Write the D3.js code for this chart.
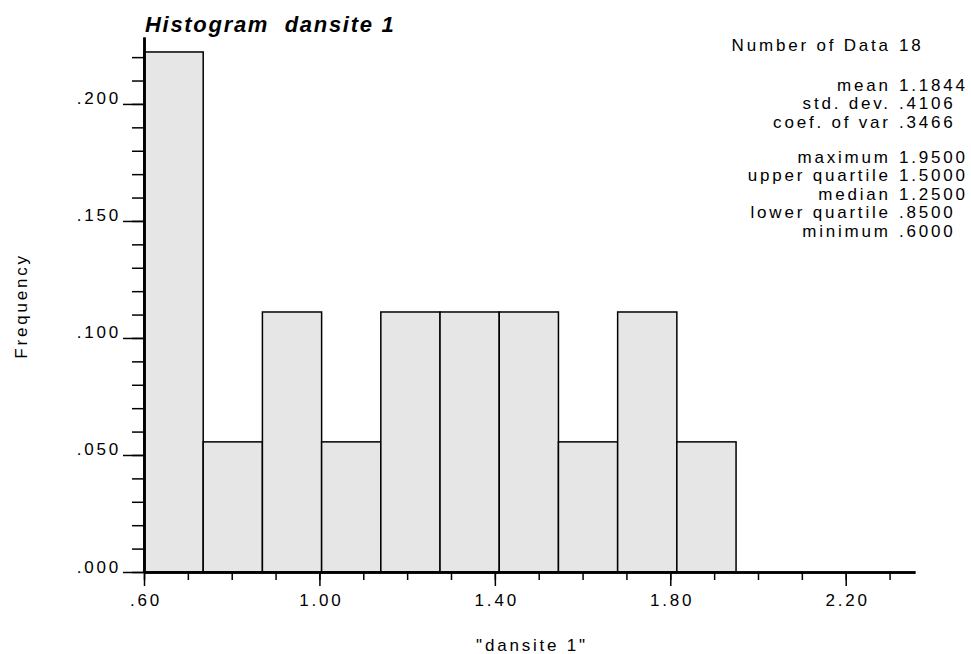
<!DOCTYPE html>
<html>
<head>
<meta charset="utf-8">
<script src="https://cdn.jsdelivr.net/npm/d3@7"></script>
<style>
  body { margin: 0; background: #fff; }
  text { font-family: "Liberation Sans", Arial, sans-serif; fill: #000; }
</style>
</head>
<body>
<div id="chart"></div>
<script>
var width = 971;
var height = 654;

// bins of "dansite 1" (10 classes from .60 to 1.95), frequency = count / 18
var binEdges = [0.60, 0.735, 0.87, 1.005, 1.14, 1.275, 1.41, 1.545, 1.68, 1.815, 1.95];
var binFreq = [0.2222, 0.0556, 0.1111, 0.0556, 0.1111, 0.1111, 0.1111, 0.0556, 0.1111, 0.0556];

var xMajor = [0.6, 1.0, 1.4, 1.8, 2.2];
var yMajor = [0, 0.05, 0.10, 0.15, 0.20];

var statLabels = ["Number of Data", "mean", "std. dev.", "coef. of var",
                  "maximum", "upper quartile", "median", "lower quartile", "minimum"];
var statValues = ["18", "1.1844", ".4106", ".3466",
                  "1.9500", "1.5000", "1.2500", ".8500", ".6000"];

var margin = {left: 144, right: 56, top: 37, bottom: 82};
var fs = 17;      // body font size
var ls = 2.8;     // the original font is widely spaced

var svg = d3.select("#chart")
    .append("svg")
    .attr("width", width)
    .attr("height", height);

var x = d3.scaleLinear().domain([0.6, 2.358]).range([margin.left, width - margin.right]);
var y = d3.scaleLinear().domain([0, 0.2286]).range([height - margin.bottom, margin.top]);

var bars = svg.append("g");
bars.selectAll("rect")
    .data(binFreq)
    .enter()
    .append("rect")
    .attr("x", function(d, i){ return x(binEdges[i]); })
    .attr("width", function(d, i){ return x(binEdges[i + 1]) - x(binEdges[i]); })
    .attr("y", function(d){ return y(d); })
    .attr("height", function(d){ return y(0) - y(d); })
    .attr("fill", "#e6e6e6")
    .attr("stroke", "#000")
    .attr("stroke-width", 1.5);

function stripZero(f){
    return function(v){ return f(v).replace(/^0\./, "."); };
}

// x axis: minor ticks every .1, labels every .4
var xMinor = d3.range(0.6, 2.35, 0.1);
svg.append("g")
    .attr("transform", "translate(0," + y(0) + ")")
    .call(d3.axisBottom(x).tickValues(xMinor).tickSize(8).tickFormat("").tickSizeOuter(0));
var xAxis = svg.append("g")
    .attr("transform", "translate(0," + y(0) + ")")
    .call(d3.axisBottom(x).tickValues(xMajor).tickSize(14).tickPadding(8)
        .tickFormat(stripZero(d3.format(".2f"))).tickSizeOuter(0));

// y axis: minor ticks every .01, labels every .05
var yMinor = d3.range(0, 0.225, 0.01);
svg.append("g")
    .attr("transform", "translate(" + x(0.6) + ",0)")
    .call(d3.axisLeft(y).tickValues(yMinor).tickSize(12).tickFormat("").tickSizeOuter(0));
var yAxis = svg.append("g")
    .attr("transform", "translate(" + x(0.6) + ",0)")
    .call(d3.axisLeft(y).tickValues(yMajor).tickSize(21).tickPadding(2)
        .tickFormat(stripZero(d3.format(".3f"))).tickSizeOuter(0));

svg.selectAll(".domain").attr("stroke", "#000").attr("stroke-width", 2.5);
svg.selectAll(".tick line").attr("stroke", "#000").attr("stroke-width", 1.5);
svg.selectAll(".tick text")
    .attr("font-size", fs)
    .style("font-family", "Liberation Sans, Arial, sans-serif")
    .style("letter-spacing", ls + "px");
xAxis.selectAll(".tick text").attr("dx", ls / 2);
yAxis.selectAll(".tick text").attr("dy", "0");

// title
svg.append("text")
    .attr("x", 145)
    .attr("y", 32)
    .attr("font-size", 22)
    .attr("font-weight", "bold")
    .attr("font-style", "italic")
    .style("letter-spacing", "1.7px")
    .style("white-space", "pre")
    .text("Histogram  dansite 1");

// axis labels
svg.append("text")
    .attr("transform", "translate(27,306) rotate(-90)")
    .attr("text-anchor", "middle")
    .attr("font-size", fs)
    .style("letter-spacing", ls + "px")
    .text("Frequency");

svg.append("text")
    .attr("x", 532)
    .attr("y", 651)
    .attr("text-anchor", "middle")
    .attr("font-size", fs)
    .style("letter-spacing", ls + "px")
    .text("\"dansite 1\"");

// summary statistics
var statY = [51, 91, 109, 128, 163, 181, 200, 218, 237];
var stats = svg.append("g")
    .attr("font-size", fs)
    .style("letter-spacing", ls + "px");
stats.selectAll(".lab")
    .data(statLabels)
    .enter()
    .append("text")
    .attr("x", 888 + ls)
    .attr("y", function(d, i){ return statY[i]; })
    .attr("text-anchor", "end")
    .text(function(d){ return d; });
stats.selectAll(".val")
    .data(statValues)
    .enter()
    .append("text")
    .attr("x", 899)
    .attr("y", function(d, i){ return statY[i]; })
    .text(function(d){ return d; });
</script>
</body>
</html>
